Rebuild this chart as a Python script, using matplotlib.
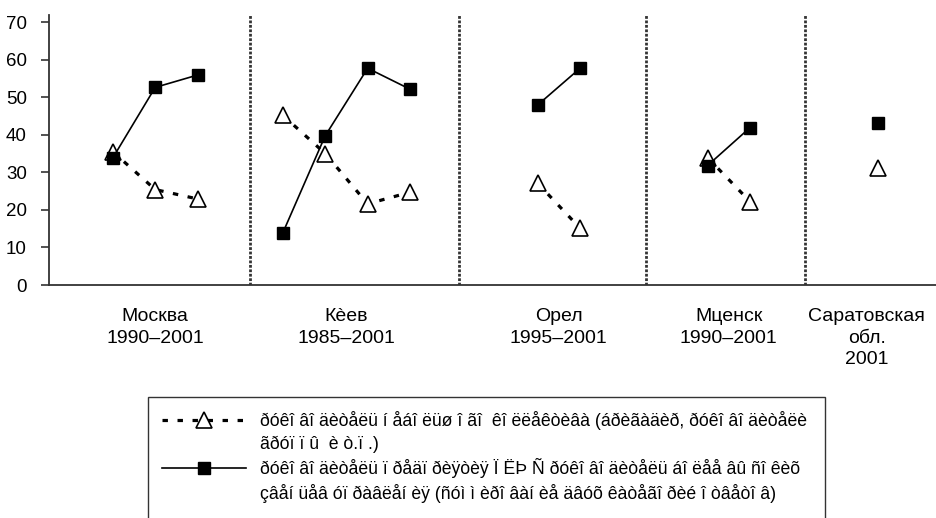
import matplotlib
matplotlib.use("Agg")
import matplotlib.pyplot as plt
from matplotlib.lines import Line2D
from matplotlib.transforms import blended_transform_factory

plt.rcParams['font.family'] = ['Liberation Sans', 'DejaVu Sans']

# slot positions of the points along the x axis, one list per region
groups = ["Москва\n1990–2001", "Кèев\n1985–2001", "Орел\n1995–2001",
          "Мценск\n1990–2001", "Саратовская\nобл.\n2001"]
group_x = [
    [1, 2, 3],
    [5, 6, 7, 8],
    [11, 12],
    [15, 16],
    [19],
]
label_x = [2, 6.5, 11.5, 15.5, 18.75]
# share of small-team leaders (triangles)
small_team = [
    [35.5, 25.4, 22.9],
    [45.2, 35.0, 21.6, 24.7],
    [27.1, 15.1],
    [33.9, 22.2],
    [31.2],
]
# share of enterprise and higher-level leaders (squares)
higher = [
    [33.8, 52.6, 55.9],
    [13.8, 39.7, 57.7, 52.1],
    [47.9, 57.7],
    [31.8, 41.9],
    [43.0],
]
separators = [4.22, 9.14, 13.54, 17.3]
yticks = [0, 10, 20, 30, 40, 50, 60, 70]

label_small = ["ðóêî âî äèòåëü í åáî ëüø î ãî  êî ëëåêòèâà (áðèãàäèð, ðóêî âî äèòåëè",
               "ãðóï ï û  è ò.ï .)"]
label_high = ["ðóêî âî äèòåëü ï ðåäï ðèÿòèÿ Ï ËÞ Ñ ðóêî âî äèòåëü áî ëåå âû ñî êèõ",
              "çâåí üåâ óï ðàâëåí èÿ (ñóì ì èðî âàí èå äâóõ êàòåãî ðèé î òâåòî â)"]

fig = plt.figure(figsize=(9.37, 5.18), dpi=100)
ax = fig.add_axes([49/937, 1 - 285/518, 1 - 49/937, (285 - 14.5)/518])

dash_style = (0, (1.7, 3.0))
for i in range(len(groups)):
    l1, = ax.plot(group_x[i], small_team[i], color='black', lw=2.3, linestyle=dash_style,
                  marker='^', markersize=12, markerfacecolor='white',
                  markeredgecolor='black', markeredgewidth=1.2, zorder=3)
    l2, = ax.plot(group_x[i], higher[i], color='black', lw=1.2, linestyle='-',
                  marker='s', markersize=8.5, markerfacecolor='black',
                  markeredgecolor='black', zorder=4)

for sx in separators:
    ax.axvline(sx, color='#333333', lw=2, linestyle=(0, (1, 0.6)), zorder=1)

ax.set_xlim(-0.5, 20.4)
ax.set_ylim(0, 72)
ax.set_yticks(yticks)
ax.set_xticks([])
ax.tick_params(axis='y', labelsize=13.5, length=6, width=1.2, color='#333333', pad=10)
for side in ['top', 'right']:
    ax.spines[side].set_visible(False)
for side in ['left', 'bottom']:
    ax.spines[side].set_color('#333333')
    ax.spines[side].set_linewidth(1.3)

trans = blended_transform_factory(ax.transData, ax.transAxes)
for i, name in enumerate(groups):
    ax.text(label_x[i], -0.085, name, transform=trans, ha='center', va='top',
            fontsize=14, linespacing=1.35)

blank = Line2D([], [], color='none')
handles = [l1, blank, l2, blank, blank]
labels = [label_small[0], label_small[1], label_high[0], label_high[1], " "]
leg = fig.legend(handles, labels, loc='upper left',
                 bbox_to_anchor=(148/937, 1 - 398/518, 677/937, 0.001),
                 mode='expand', fontsize=12.7, handlelength=4.8, handletextpad=0.75,
                 frameon=True, fancybox=False, edgecolor='black', borderpad=0.78,
                 labelspacing=0.31, borderaxespad=0)
leg.get_frame().set_linewidth(1.0)

fig.savefig("out.png", dpi=100)
